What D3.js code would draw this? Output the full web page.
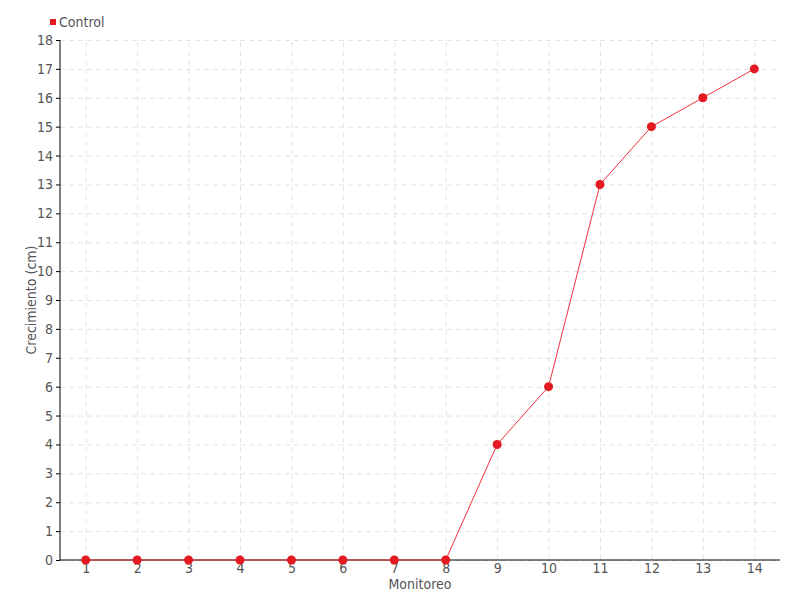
<!DOCTYPE html>
<html>
<head>
<meta charset="utf-8">
<script src="https://cdn.jsdelivr.net/npm/d3@7"></script>
<style>
body { margin: 0; background: #fff; }
text { font-family: "Liberation Sans Narrow", "DejaVu Sans Condensed", sans-serif; fill: #555; }
.grid line { stroke: #e3e3e3; stroke-dasharray: 5,4; }
.grid path { display: none; }
</style>
</head>
<body>
<div id="chart"></div>
<script>
// data
var monitoreo = [1, 2, 3, 4, 5, 6, 7, 8, 9, 10, 11, 12, 13, 14];
var control = [0, 0, 0, 0, 0, 0, 0, 0, 4, 6, 13, 15, 16, 17];
var yTicks = d3.range(0, 19);

var margin = {top: 40, right: 20, bottom: 40, left: 60},
    width = 800 - margin.left - margin.right,
    height = 600 - margin.top - margin.bottom;

var svg = d3.select("#chart").append("svg")
    .attr("width", 800)
    .attr("height", 600)
  .append("g")
    .attr("transform", "translate(" + margin.left + "," + margin.top + ")");

var x = d3.scalePoint().domain(monitoreo).range([0, width]).padding(0.5);
var y = d3.scaleLinear().domain([0, 18]).range([height, 0]);

// grid
svg.append("g").attr("class", "grid")
    .call(d3.axisLeft(y).tickValues(yTicks).tickSize(-width).tickFormat(""));
svg.append("g").attr("class", "grid")
    .attr("transform", "translate(0," + height + ")")
    .call(d3.axisBottom(x).tickSize(-height).tickFormat(""));

// axes
var yaxis = svg.append("g").attr("class", "yaxis")
    .call(d3.axisLeft(y).tickValues(yTicks).tickSize(4).tickPadding(3));
var xaxis = svg.append("g").attr("class", "xaxis")
    .attr("transform", "translate(0," + height + ")")
    .call(d3.axisBottom(x).tickSize(0).tickPadding(3));

svg.selectAll(".yaxis path, .xaxis path").attr("stroke", "#000");
yaxis.select("path").attr("d", "M0,0V" + height);
xaxis.select("path").attr("d", "M0,0H" + width);
svg.selectAll(".yaxis line").attr("stroke", "#000");
svg.selectAll(".yaxis text, .xaxis text")
    .attr("font-size", "14px")
    .style("font-family", "'Liberation Sans Narrow', 'DejaVu Sans Condensed', sans-serif")
    .attr("fill", "#555");

// line
var line = d3.line()
    .x(function(d, i) { return x(monitoreo[i]); })
    .y(function(d) { return y(d); });

svg.append("path")
    .datum(control)
    .attr("fill", "none")
    .attr("stroke", "#f0303c")
    .attr("stroke-width", 1)
    .attr("d", line);

svg.selectAll(".dot")
    .data(control)
  .enter().append("circle")
    .attr("class", "dot")
    .attr("cx", function(d, i) { return x(monitoreo[i]); })
    .attr("cy", function(d) { return y(d); })
    .attr("r", 4.5)
    .attr("fill", "#e31a22");

// titles
svg.append("text")
    .attr("x", width / 2)
    .attr("y", height + 29)
    .attr("text-anchor", "middle")
    .attr("font-size", "14px")
    .text("Monitoreo");

svg.append("text")
    .attr("transform", "rotate(-90)")
    .attr("x", -height / 2)
    .attr("y", -24)
    .attr("text-anchor", "middle")
    .attr("font-size", "14px")
    .text("Crecimiento (cm)");

// legend
var legend = d3.select("svg").append("g");
legend.append("rect").attr("x", 50).attr("y", 19).attr("width", 6).attr("height", 6).attr("fill", "#e31a22");
legend.append("text").attr("x", 59).attr("y", 27).attr("font-size", "14px").text("Control");
</script>
</body>
</html>
